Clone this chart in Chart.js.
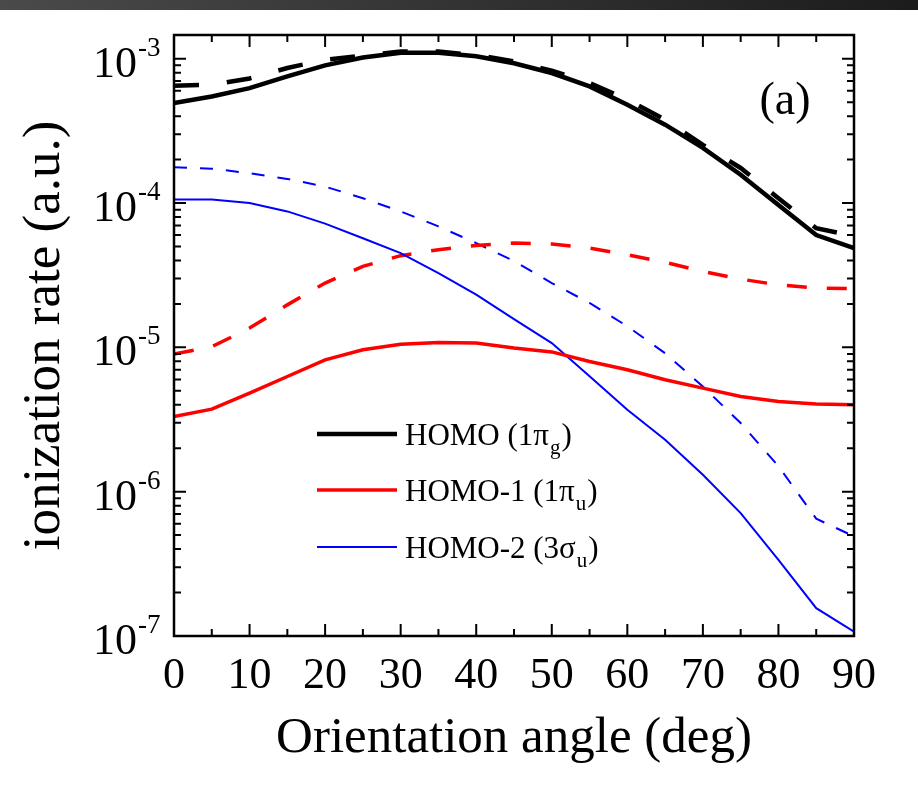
<!DOCTYPE html>
<html>
<head>
<meta charset="utf-8">
<script src="https://cdn.jsdelivr.net/npm/chart.js@4.4.0/dist/chart.umd.min.js"></script>
<style>
  body { margin: 0; background: #fff; }
  #bar { position: absolute; left: 0; top: 0; width: 918px; height: 10px;
         background: linear-gradient(to right, #4a4a4a, #1c1c1c); }
</style>
</head>
<body>
<canvas id="myChart" width="918" height="804"></canvas>
<div id="bar"></div>
<script>
// orientation angle (deg)
const angles = [0, 5, 10, 15, 20, 25, 30, 35, 40, 45, 50, 55, 60, 65, 70, 75, 80, 85, 90];

// solid lines (legend entries)
const homoSolid = [4.93e-4, 5.48e-4, 6.26e-4, 7.55e-4, 8.99e-4, 1.02e-3, 1.10e-3, 1.10e-3, 1.04e-3, 9.3e-4,
                   7.96e-4, 6.43e-4, 4.8e-4, 3.49e-4, 2.41e-4, 1.57e-4, 9.7e-5, 6.0e-5, 4.88e-5];
const homo1Solid = [3.32e-6, 3.73e-6, 4.82e-6, 6.28e-6, 8.2e-6, 9.62e-6, 1.05e-5, 1.08e-5, 1.07e-5, 9.9e-6,
                    9.3e-6, 7.99e-6, 7.0e-6, 5.96e-6, 5.22e-6, 4.57e-6, 4.22e-6, 4.05e-6, 4.0e-6];
const homo2Solid = [1.06e-4, 1.06e-4, 1.0e-4, 8.75e-5, 7.2e-5, 5.7e-5, 4.5e-5, 3.27e-5, 2.32e-5, 1.57e-5,
                    1.07e-5, 6.3e-6, 3.7e-6, 2.29e-6, 1.31e-6, 7.1e-7, 3.37e-7, 1.56e-7, 1.07e-7];

// dashed lines
const homoDashed = [6.5e-4, 6.6e-4, 7.3e-4, 8.62e-4, 9.84e-4, 1.05e-3, 1.12e-3, 1.12e-3, 1.06e-3, 9.6e-4,
                    8.26e-4, 6.79e-4, 5.2e-4, 3.78e-4, 2.53e-4, 1.75e-4, 1.08e-4, 6.7e-5, 5.9e-5];
const homo1Dashed = [9.0e-6, 1.01e-5, 1.36e-5, 1.97e-5, 2.79e-5, 3.64e-5, 4.32e-5, 4.75e-5, 5.08e-5, 5.28e-5,
                     5.2e-5, 4.88e-5, 4.38e-5, 3.88e-5, 3.36e-5, 2.97e-5, 2.71e-5, 2.58e-5, 2.55e-5];
const homo2Dashed = [1.77e-4, 1.73e-4, 1.61e-4, 1.47e-4, 1.30e-4, 1.08e-4, 8.75e-5, 6.89e-5, 5.28e-5, 3.96e-5,
                     2.79e-5, 2.03e-5, 1.40e-5, 9.1e-6, 5.35e-6, 2.99e-6, 1.50e-6, 6.5e-7, 4.9e-7];

// axis ticks
const xTickValues = [0, 5, 10, 15, 20, 25, 30, 35, 40, 45, 50, 55, 60, 65, 70, 75, 80, 85, 90];
const yDecades = [-7, -6, -5, -4, -3];
const yMinorMult = [2, 3, 4, 5, 6, 7, 8, 9];

// legend: text, subscript
const legendNames = ['HOMO (1\u03c0', 'HOMO-1 (1\u03c0', 'HOMO-2 (3\u03c3'];
const legendSubs = ['g', 'u', 'u'];

const serif = "'Liberation Serif', 'Times New Roman', serif";
Chart.defaults.font.family = serif;
Chart.defaults.color = '#000';

function pts(vals) {
    return angles.map((a, i) => ({x: a, y: vals[i]}));
}

// ticks pointing inward on all four sides, plus the frame
const frameTicks = {
    id: 'frameTicks',
    afterDatasetsDraw(chart) {
        const {ctx, chartArea: a, scales: {x, y}} = chart;
        ctx.save();
        ctx.strokeStyle = '#000';
        ctx.lineWidth = 2;
        ctx.beginPath();
        xTickValues.forEach(v => {
            const px = x.getPixelForValue(v);
            const len = v % 10 === 0 ? 12 : 7;
            ctx.moveTo(px, a.bottom); ctx.lineTo(px, a.bottom - len);
            ctx.moveTo(px, a.top); ctx.lineTo(px, a.top + len);
        });
        yDecades.forEach(e => {
            const base = Math.pow(10, e);
            const py = y.getPixelForValue(base);
            ctx.moveTo(a.left, py); ctx.lineTo(a.left + 12, py);
            ctx.moveTo(a.right, py); ctx.lineTo(a.right - 12, py);
            yMinorMult.forEach(m => {
                const v = base * m;
                if (v > y.max) return;
                const pm = y.getPixelForValue(v);
                ctx.moveTo(a.left, pm); ctx.lineTo(a.left + 7, pm);
                ctx.moveTo(a.right, pm); ctx.lineTo(a.right - 7, pm);
            });
        });
        ctx.stroke();
        ctx.lineWidth = 2.5;
        ctx.strokeRect(a.left, a.top, a.width, a.height);
        ctx.restore();
    }
};

// y labels as 10 with superscript, legend and panel label
const extras = {
    id: 'extras',
    afterDraw(chart) {
        const {ctx, scales: {y}} = chart;
        ctx.save();
        ctx.fillStyle = '#000';
        yDecades.forEach(e => {
            const py = y.getPixelForValue(Math.pow(10, e));
            ctx.font = '44px ' + serif;
            ctx.textAlign = 'right';
            ctx.textBaseline = 'alphabetic';
            ctx.fillText('10', 137, py + 18);
            ctx.font = '27px ' + serif;
            ctx.textAlign = 'left';
            ctx.fillText(String(e), 138, py - 3);
        });

        // legend
        const lineY = [434, 490, 547];
        chart.data.datasets.slice(0, 3).forEach((ds, i) => {
            const ly = lineY[i];
            ctx.strokeStyle = ds.borderColor;
            ctx.lineWidth = ds.borderWidth;
            ctx.setLineDash([]);
            ctx.beginPath();
            ctx.moveTo(317, ly); ctx.lineTo(397, ly);
            ctx.stroke();
            ctx.font = '31px ' + serif;
            ctx.textAlign = 'left';
            ctx.fillText(legendNames[i], 405, ly + 11);
            let w = ctx.measureText(legendNames[i]).width;
            ctx.font = '21px ' + serif;
            ctx.fillText(legendSubs[i], 405 + w + 1, ly + 20);
            const sw = ctx.measureText(legendSubs[i]).width;
            ctx.font = '31px ' + serif;
            ctx.fillText(')', 405 + w + sw + 2, ly + 11);
        });

        ctx.font = '46px ' + serif;
        ctx.textAlign = 'center';
        ctx.fillText('(a)', 785, 114);
        ctx.restore();
    }
};

let ctx = document.getElementById('myChart').getContext('2d');
let chart = new Chart(ctx, {
    type: 'line',
    data: {
        datasets: [{
            label: 'HOMO (1\u03c0g)',
            data: pts(homoSolid),
            borderColor: '#000000',
            borderWidth: 4.5
        }, {
            label: 'HOMO-1 (1\u03c0u)',
            data: pts(homo1Solid),
            borderColor: '#ff0000',
            borderWidth: 3.5
        }, {
            label: 'HOMO-2 (3\u03c3u)',
            data: pts(homo2Solid),
            borderColor: '#0000ff',
            borderWidth: 2
        }, {
            label: 'HOMO dashed',
            data: pts(homoDashed),
            borderColor: '#000000',
            borderWidth: 4.5,
            borderDash: [25, 28]
        }, {
            label: 'HOMO-1 dashed',
            data: pts(homo1Dashed),
            borderColor: '#ff0000',
            borderWidth: 3.5,
            borderDash: [20, 20]
        }, {
            label: 'HOMO-2 dashed',
            data: pts(homo2Dashed),
            borderColor: '#0000ff',
            borderWidth: 2,
            borderDash: [13, 13]
        }]
    },
    options: {
        responsive: false,
        animation: false,
        devicePixelRatio: 1,
        elements: {
            point: {radius: 0},
            line: {tension: 0, fill: false}
        },
        layout: {padding: {top: 35, right: 64, left: 0, bottom: 0}},
        plugins: {
            legend: {display: false},
            tooltip: {enabled: false}
        },
        scales: {
            x: {
                type: 'linear',
                min: 0,
                max: 90,
                grid: {display: false},
                border: {display: false},
                ticks: {stepSize: 10, font: {size: 44}, padding: 6, maxRotation: 0},
                title: {display: true, text: 'Orientation angle (deg)', font: {size: 51}, padding: {bottom: 35}},
                afterFit(scale) { scale.height = 168; }
            },
            y: {
                type: 'logarithmic',
                min: 1e-7,
                max: 1.46e-3,
                grid: {display: false},
                border: {display: false},
                ticks: {display: false},
                title: {display: true, text: 'ionization rate (a.u.)', font: {size: 53}, padding: {top: 13}},
                afterFit(scale) { scale.width = 174; }
            }
        }
    },
    plugins: [frameTicks, extras]
});
</script>
</body>
</html>
